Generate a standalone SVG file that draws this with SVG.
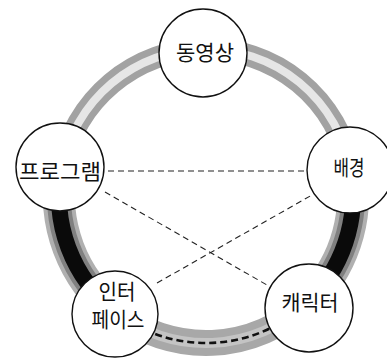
<svg xmlns="http://www.w3.org/2000/svg" width="387" height="358" viewBox="0 0 387 358">
<style>
.node{fill:#fff;stroke:#111;stroke-width:1.4}
.lbl{font-family:"Noto Sans CJK KR","Noto Sans",sans-serif;font-size:21px;fill:#111;text-anchor:middle}
.dash{fill:none;stroke:#222;stroke-width:1.1;stroke-dasharray:6 4}
.halo{fill:none;stroke:#b0b0b0;stroke-width:32}
.halo2{fill:none;stroke:#808080;stroke-width:24}
.core{fill:none;stroke:#0a0a0a;stroke-width:16}
.strip{fill:none;stroke:#a2a2a2;stroke-width:22}
.gap{fill:none;stroke:#e6e6e6;stroke-width:8}
.band{fill:none;stroke:#a8a8a8;stroke-width:26}
.band2{fill:none;stroke:#c4c4c4;stroke-width:10}
.bdash{fill:none;stroke:#111;stroke-width:2.6;stroke-dasharray:7 4}
</style>
<g id="connectors">
<g id="ring">
<path class="strip" d="M202.9 49 A147 147 0 0 1 350.7 170"/>
<path class="gap" d="M202.9 49 A147 147 0 0 1 350.7 170"/>
<path class="halo" d="M350.7 170 A147 147 0 0 1 305.5 304.2"/>
<path class="halo2" d="M350.7 170 A147 147 0 0 1 305.5 304.2"/>
<path class="core" d="M350.7 170 A147 147 0 0 1 305.5 304.2"/>
<path class="band" d="M305.5 304.2 A147 147 0 0 1 116.3 312.5"/>
<path class="band2" d="M305.5 304.2 A147 147 0 0 1 116.3 312.5"/>
<path class="bdash" d="M305.5 304.2 A147 147 0 0 1 116.3 312.5"/>
<path class="halo" d="M116.3 312.5 A147 147 0 0 1 61.8 167.5"/>
<path class="halo2" d="M116.3 312.5 A147 147 0 0 1 61.8 167.5"/>
<path class="core" d="M116.3 312.5 A147 147 0 0 1 61.8 167.5"/>
<path class="strip" d="M61.8 167.5 A147 147 0 0 1 202.9 49"/>
<path class="gap" d="M61.8 167.5 A147 147 0 0 1 202.9 49"/>
</g>
<line class="dash" x1="108" y1="171" x2="306" y2="171"/>
<line class="dash" x1="105" y1="192" x2="267" y2="285"/>
<line class="dash" x1="157" y1="283" x2="312" y2="195"/>
</g>
<g id="node-video">
<circle class="node" cx="203" cy="53" r="44"/>
<text class="lbl" x="205" y="60" textLength="58" lengthAdjust="spacingAndGlyphs">동영상</text>
</g>
<g id="node-program">
<circle class="node" cx="60" cy="167" r="44"/>
<text class="lbl" x="60" y="179" textLength="82" lengthAdjust="spacingAndGlyphs">프로그램</text>
</g>
<g id="node-background">
<circle class="node" cx="350" cy="170" r="43"/>
<text class="lbl" x="349" y="175" textLength="31" lengthAdjust="spacingAndGlyphs">배경</text>
</g>
<g id="node-interface">
<circle class="node" cx="115" cy="314" r="43"/>
<text class="lbl" x="117" y="299" textLength="37" lengthAdjust="spacingAndGlyphs">인터</text>
<text class="lbl" x="118" y="327" textLength="53" lengthAdjust="spacingAndGlyphs">페이스</text>
</g>
<g id="node-character">
<circle class="node" cx="309" cy="308" r="44"/>
<text class="lbl" x="310" y="310" textLength="57" lengthAdjust="spacingAndGlyphs">캐릭터</text>
</g>
</svg>
